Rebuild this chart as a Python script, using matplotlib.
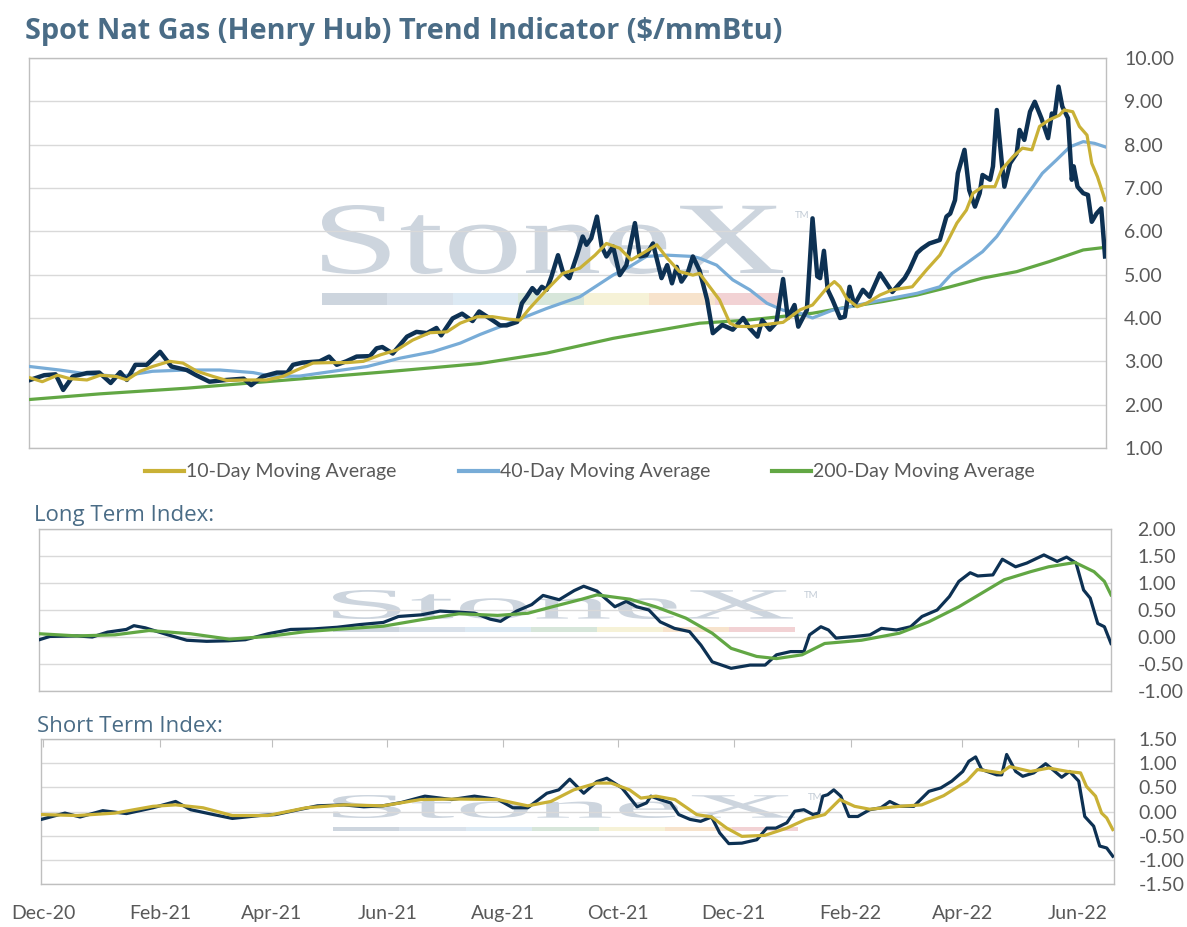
import numpy as np
import pandas as pd
import matplotlib
matplotlib.use('Agg')
import matplotlib.pyplot as plt
import matplotlib.dates as mdates
from matplotlib.ticker import FormatStrFormatter
from matplotlib.textpath import TextPath
from matplotlib.patches import PathPatch, Rectangle
from matplotlib.font_manager import FontProperties
from matplotlib.transforms import Affine2D
from matplotlib.lines import Line2D

plt.rcParams['font.family'] = ['Lato', 'DejaVu Sans']

# all series: days since 30 Nov 2020
START = pd.Timestamp('2020-11-30')
N_DAYS = 567

spot_day = [0.5, 8, 14, 18, 23, 30.5, 37, 43, 48, 51.5, 56, 62, 69, 75, 83, 88, 95, 104, 113, 117,
            123, 130.5, 136, 139, 144, 153, 158, 162, 167, 172.5, 179.5, 183, 186, 191.5, 199, 204,
            209.5, 214.5, 217, 223, 228, 233.5, 237, 244, 248, 251.5, 257, 259.5, 262, 265, 267.5,
            270, 272.5, 275, 278.5, 281, 284.5, 288.5, 291.5, 293.5, 296, 299, 301.5, 304, 307.5,
            311, 314.5, 319, 321.5, 325, 328.5, 333, 336, 338.5, 341, 343.5, 347, 349.5, 353, 357,
            360, 365, 370.5, 376, 379.5, 383.5, 386, 390, 393.5, 397, 399.5, 403, 405, 409.5, 412.5,
            415, 416.5, 418.5, 420.5, 423, 427, 429.5, 432, 434.5, 439, 442.5, 448, 451.5, 454.5,
            458.5, 461, 463.5, 467.5, 470, 474, 479.5, 483, 485, 487.5, 489, 492.5, 495, 498, 500.5,
            502, 506, 507.5, 509.5, 512, 513.5, 516.5, 520, 521.5, 524, 527, 529.5, 533, 536.5,
            538.5, 540, 542, 544, 547, 549, 550, 552, 555, 557.5, 559.5, 562, 564.5, 566.5]
spot = [2.57, 2.68, 2.70, 2.34, 2.65, 2.73, 2.74, 2.50, 2.75, 2.57, 2.92, 2.92, 3.22, 2.88, 2.80, 2.68,
        2.53, 2.57, 2.60, 2.45, 2.65, 2.74, 2.74, 2.92, 2.97, 3.00, 3.11, 2.92, 3.00, 3.11, 3.12, 3.30,
        3.33, 3.18, 3.57, 3.68, 3.65, 3.77, 3.60, 3.99, 4.10, 3.93, 4.15, 3.95, 3.83, 3.83, 3.91, 4.34,
        4.49, 4.69, 4.57, 4.72, 4.65, 4.95, 5.45, 5.07, 4.92, 5.45, 5.88, 5.69, 5.84, 6.34, 5.65, 5.42,
        5.65, 4.99, 5.22, 6.19, 5.42, 5.45, 5.72, 4.92, 5.22, 4.80, 5.18, 4.84, 5.07, 5.42, 5.10, 4.42,
        3.65, 3.84, 3.73, 4.00, 3.76, 3.57, 3.95, 3.73, 3.90, 4.90, 4.00, 4.30, 3.80, 4.18, 6.30,
        4.96, 4.92, 5.55, 4.65, 4.42, 4.00, 4.03, 4.72, 4.30, 4.65, 4.49, 5.03, 4.80, 4.60,
        4.80, 4.92, 5.11, 5.50, 5.60, 5.72, 5.80, 6.34, 6.41, 6.72, 7.34, 7.88, 6.95, 6.57, 6.88,
        7.30, 7.19, 7.50, 8.80, 7.65, 7.03, 7.57, 7.80, 8.34, 8.11, 8.76, 8.99, 8.61, 8.15,
        8.72, 8.68, 9.34, 8.88, 8.61, 7.19, 7.50, 7.03, 6.88, 6.84, 6.22, 6.41, 6.53, 5.42]

ma10_day = [0.5, 7, 15, 21.5, 30.5, 37.5, 46, 51.5, 58.5, 65, 74, 81, 88.5, 97, 104, 115, 125, 133.5,
            141, 149.5, 158.5, 167.5, 176, 185, 193.5, 202, 211, 220, 227, 236, 244, 253, 258.5,
            263.5, 272.5, 281, 290, 298, 304, 311, 317, 323, 330.5, 336, 342.5, 349.5, 353, 363.5,
            369, 372.5, 379.5, 386, 397, 406, 412.5, 420, 424, 427, 430.5, 436, 441, 448, 454.5,
            465, 472.5, 479.5, 483.5, 488.5, 493.5, 497, 502, 508.5, 512, 518, 523, 528, 532, 537,
            542.5, 545, 549.5, 553, 557, 559.5, 562.5, 566.5]
ma10 = [2.62, 2.53, 2.68, 2.60, 2.57, 2.68, 2.65, 2.57, 2.77, 2.88, 3.00, 2.96, 2.77, 2.65, 2.56, 2.57,
        2.57, 2.65, 2.80, 2.96, 2.97, 2.97, 3.00, 3.15, 3.26, 3.49, 3.66, 3.68, 3.88, 4.03, 4.03, 3.97,
        3.95, 4.22, 4.65, 5.03, 5.15, 5.45, 5.72, 5.61, 5.34, 5.49, 5.69, 5.38, 5.07, 4.99, 5.03, 4.42,
        3.88, 3.81, 3.80, 3.84, 3.90, 4.19, 4.30, 4.69, 4.84, 4.72, 4.45, 4.26, 4.34, 4.53, 4.65,
        4.72, 5.11, 5.45, 5.76, 6.19, 6.49, 6.88, 7.03, 7.03, 7.42, 7.72, 7.92, 7.88, 8.42, 8.57,
        8.68, 8.80, 8.76, 8.42, 8.22, 7.57, 7.26, 6.72]

ma40_day = [0.5, 16, 30.5, 48, 65, 83, 100.5, 118, 128.5, 142.5, 160, 178, 195, 212.5, 227, 237.5,
            254.5, 272.5, 290, 307.5, 316, 325, 336, 349.5, 353, 362, 370.5, 379.5, 388.5, 397, 406,
            412.5, 423, 432, 449.5, 467.5, 479.5, 486, 493.5, 502, 509.5, 515, 521.5, 528.5, 533.5,
            541, 548, 555, 561, 566.5]
ma40 = [2.88, 2.80, 2.71, 2.65, 2.77, 2.80, 2.80, 2.74, 2.65, 2.66, 2.77, 2.88, 3.07, 3.22, 3.42, 3.62,
        3.91, 4.22, 4.49, 4.99, 5.18, 5.42, 5.45, 5.42, 5.38, 5.22, 4.88, 4.65, 4.34, 4.18, 4.11,
        4.00, 4.18, 4.26, 4.42, 4.57, 4.72, 5.03, 5.26, 5.53, 5.88, 6.22, 6.61, 7.03, 7.34,
        7.65, 7.95, 8.07, 8.03, 7.95]

ma200_day = [0.5, 37.5, 83, 136, 188.5, 237.5, 272.5, 307.5, 342.5, 353, 378, 412.5, 432, 449.5,
             467.5, 485, 502, 520, 537, 555, 566.5]
ma200 = [2.12, 2.25, 2.38, 2.57, 2.76, 2.95, 3.19, 3.53, 3.80, 3.88, 3.95, 4.11, 4.26, 4.38,
         4.53, 4.72, 4.92, 5.07, 5.30, 5.57, 5.63]

lt_day = [0, 5.5, 20, 28, 36, 46, 50, 56, 68, 78, 88.5, 100, 109, 121, 133, 145, 157.5, 169.5, 182,
          190, 202, 212, 222, 230.5, 238.5, 244, 252.5, 260.5, 266.5, 275, 283, 288, 295, 304.5,
          310.5, 316, 322.5, 328.5, 336, 344, 350, 356, 366, 376, 384, 390, 397.5, 404.5, 407.5,
          413.5, 417.5, 421.5, 431.5, 439.5, 445.5, 453.5, 461, 467, 475, 481.5, 486.5, 492.5,
          496.5, 504.5, 509.5, 516.5, 522.5, 531.5, 538.5, 543.5, 548.5, 552.5, 556, 560, 563.5, 567]
lt = [-0.05, 0.01, 0.02, 0.00, 0.09, 0.14, 0.21, 0.17, 0.04, -0.06, -0.08, -0.07, -0.05, 0.06, 0.14,
      0.15, 0.18, 0.23, 0.27, 0.38, 0.41, 0.48, 0.46, 0.44, 0.33, 0.29, 0.48, 0.60, 0.77, 0.69, 0.86,
      0.94, 0.85, 0.56, 0.66, 0.56, 0.50, 0.28, 0.16, 0.10, -0.15, -0.46, -0.58, -0.52, -0.52, -0.33,
      -0.27, -0.27, 0.04, 0.19, 0.13, -0.02, 0.01, 0.04, 0.16, 0.13, 0.19, 0.38, 0.50, 0.75, 1.03,
      1.19, 1.13, 1.15, 1.44, 1.30, 1.37, 1.52, 1.40, 1.48, 1.37, 0.87, 0.72, 0.25, 0.19, -0.12]

lt_ma_day = [0, 20, 40, 58, 80, 100.5, 121, 141, 161, 182, 202, 222, 242.5, 258.5, 272.5, 287, 295,
             312.5, 326, 342, 356, 366, 379.5, 390, 403.5, 415.5, 435, 455, 470.5, 486.5, 498.5,
             510.5, 524.5, 534, 548, 558, 563.5, 567]
lt_ma = [0.06, 0.02, 0.04, 0.12, 0.06, -0.04, 0.01, 0.10, 0.15, 0.20, 0.32, 0.43, 0.40, 0.44, 0.57,
         0.70, 0.78, 0.70, 0.56, 0.35, 0.07, -0.21, -0.36, -0.40, -0.33, -0.12, -0.06, 0.07, 0.28,
         0.56, 0.81, 1.06, 1.21, 1.30, 1.38, 1.21, 1.03, 0.78]

st_day = [0, 12.5, 20.5, 32.5, 45, 59, 71, 79, 91, 101, 115.5, 124, 136, 146, 160, 170.5, 180.5,
          190.5, 202.8, 217, 229, 241.5, 249.3, 257.2, 267.3, 273.6, 279.4, 286.8, 293.7, 299, 307,
          315, 320, 322.3, 327, 332.8, 337, 343, 348.6, 354.4, 358.7, 363.5, 370.4, 378.3, 383.6,
          388.4, 394.2, 398.4, 403.2, 408, 411, 413.2, 415.8, 419, 422.7, 427, 431.7, 438, 443.9,
          448.6, 453.9, 461.3, 469.3, 475.6, 481.4, 487.2, 490.4, 494, 497.2, 505.1, 507.8, 510.4,
          515.2, 518.9, 524.7, 531, 534.7, 539.5, 543.7, 548.5, 551.7, 556.4, 559.6, 563.3, 566.5]
st = [-0.16, -0.03, -0.11, 0.02, -0.04, 0.08, 0.21, 0.04, -0.06, -0.14, -0.08, -0.06, 0.04, 0.12, 0.14,
      0.10, 0.12, 0.19, 0.32, 0.25, 0.32, 0.25, 0.08, 0.08, 0.38, 0.45, 0.67, 0.38, 0.62, 0.69, 0.49,
      0.10, 0.18, 0.32, 0.25, 0.18, -0.06, -0.16, -0.20, -0.11, -0.44, -0.66, -0.65, -0.58, -0.34,
      -0.34, -0.23, 0.01, 0.04, -0.06, -0.03, 0.32, 0.35, 0.45, 0.32, -0.10, -0.10, 0.04, 0.08,
      0.21, 0.11, 0.11, 0.42, 0.49, 0.63, 0.83, 1.04, 1.13, 0.87, 0.76, 0.76, 1.18,
      0.83, 0.73, 0.80, 0.99, 0.87, 0.71, 0.83, 0.63, -0.10, -0.30, -0.71, -0.75, -0.92]

st_ma_day = [0, 18.9, 39, 59, 71, 85.5, 101, 119.8, 140, 160, 180.5, 200.7, 220.8, 241.4, 257.2,
             269.4, 281.5, 293.7, 301.3, 311, 317, 325, 335, 346.5, 354.4, 362.4, 370.4, 382.5,
             394.2, 404.2, 414.2, 422.2, 430, 438, 453.9, 465.5, 477.1, 489.3, 495, 507.3, 512,
             523.1, 532.6, 542.6, 549.5, 552.6, 557.4, 560.6, 563.3, 566.5]
st_ma = [-0.06, -0.08, -0.03, 0.11, 0.14, 0.08, -0.08, -0.08, 0.08, 0.14, 0.12, 0.25, 0.26, 0.25, 0.12,
         0.21, 0.45, 0.59, 0.59, 0.45, 0.28, 0.32, 0.25, -0.06, -0.11, -0.34, -0.51, -0.49,
         -0.34, -0.16, -0.06, 0.25, 0.11, 0.05, 0.11, 0.14, 0.33, 0.63, 0.87, 0.80, 0.93,
         0.83, 0.90, 0.83, 0.80, 0.52, 0.32, -0.03, -0.13, -0.37]

NAVY = '#0d3153'
GOLD = '#c9b136'
LBLUE = '#78acd7'
GREEN = '#62a744'
GRID = '#d9d9d9'
SPINE = '#bfbfbf'
TICK = '#595959'
HEAD = '#4a6c86'
WM = '#cdd5de'
STRIP = ['#cdd5de', '#d9e1ea', '#dce9f3', '#d7e6da', '#f6f2d7', '#f7e3cc', '#f2d2d4']
HEAD_FONT = ['Open Sans', 'Lato', 'DejaVu Sans']

W, H = 1187, 927


def to_dates(days):
    return START + pd.to_timedelta(np.array(days), unit='D')


def box(l, t, r, b):
    # pixel box (from top-left) -> figure fraction rect
    return [l / W, (H - b) / H, (r - l) / W, (b - t) / H]


def style(ax, ylo, yhi, step, pad):
    ax.set_facecolor('none')
    ax.set_xlim(START, START + pd.Timedelta(days=N_DAYS))
    ax.set_ylim(ylo, yhi)
    ax.set_yticks(np.arange(ylo, yhi + step / 2, step))
    ax.yaxis.tick_right()
    ax.yaxis.set_major_formatter(FormatStrFormatter('%.2f'))
    ax.tick_params(axis='y', length=0, pad=pad, labelsize=14, labelcolor=TICK)
    ax.grid(axis='y', color=GRID, lw=1)
    for s in ax.spines.values():
        s.set_color(SPINE)
        s.set_linewidth(1)


def watermark(fig, x0, x1, ytop, ybot, sy0, sy1, sx1, tm_x, tm_y):
    tp = TextPath((0, 0), 'StoneX', size=100, prop=FontProperties(family='Liberation Serif'))
    ext = tp.get_extents()
    tr = (Affine2D().translate(-ext.x0, -ext.y0)
          .scale((x1 - x0) / ext.width, (ybot - ytop) / ext.height)
          .translate(x0, H - ybot).scale(1 / W, 1 / H) + fig.transFigure)
    fig.add_artist(PathPatch(tp, transform=tr, fc=WM, ec='none', zorder=-1))
    seg = (sx1 - x0) / len(STRIP)
    for i, c in enumerate(STRIP):
        fig.add_artist(Rectangle(((x0 + i * seg) / W, (H - sy1) / H), seg / W, (sy1 - sy0) / H,
                                 transform=fig.transFigure, fc=c, ec='none', zorder=-1))
    fig.text(tm_x / W, (H - tm_y) / H, 'TM', fontsize=7, color='#c3ccd6', va='center', zorder=-1)


fig = plt.figure(figsize=(W / 100, H / 100), dpi=100)
fig.patch.set_facecolor('white')

watermark(fig, 322, 783, 205, 274, 293, 305, 780, 795, 216)
watermark(fig, 333, 793, 590, 619, 627, 632, 795, 804, 595)
watermark(fig, 333, 795, 795, 818, 827, 831, 798, 808, 798)

# top panel: price and moving averages
ax1 = fig.add_axes(box(29, 58, 1106, 448))
style(ax1, 1, 10, 1, 13)
ax1.set_xticks([])
ax1.plot(to_dates(ma200_day), ma200, color=GREEN, lw=2.3, zorder=3)
ax1.plot(to_dates(ma40_day), ma40, color=LBLUE, lw=2.3, zorder=3)
ax1.plot(to_dates(spot_day), spot, color=NAVY, lw=3.2, zorder=4)
ax1.plot(to_dates(ma10_day), ma10, color=GOLD, lw=2.3, zorder=5)

handles = [Line2D([], [], color=GOLD, lw=3), Line2D([], [], color=LBLUE, lw=3),
           Line2D([], [], color=GREEN, lw=3)]
labels = ['10-Day Moving Average', '40-Day Moving Average', '200-Day Moving Average']
fig.legend(handles, labels, loc='center', bbox_to_anchor=(590 / W, (H - 472) / H), ncol=3,
           frameon=False, fontsize=14, handlelength=2.0, handletextpad=0.1, columnspacing=3.2,
           labelcolor=TICK)

# long term index
ax2 = fig.add_axes(box(39.4, 529, 1111, 691))
style(ax2, -1, 2, 0.5, 19)
ax2.set_xticks([])
ax2.plot(to_dates(lt_day), lt, color=NAVY, lw=2.3, zorder=3)
ax2.plot(to_dates(lt_ma_day), lt_ma, color=GREEN, lw=2.3, zorder=4)

# short term index
ax3 = fig.add_axes(box(41.3, 739, 1113.7, 884.3))
style(ax3, -1.5, 1.5, 0.5, 18)
ax3.plot(to_dates(st_day), st, color=NAVY, lw=2.3, zorder=3)
ax3.plot(to_dates(st_ma_day), st_ma, color=GOLD, lw=2.3, zorder=4)
ax3.xaxis.set_major_locator(mdates.MonthLocator(bymonth=[2, 4, 6, 8, 10, 12]))
ax3.xaxis.set_major_formatter(mdates.DateFormatter('%b-%y'))
ax3.tick_params(axis='x', bottom=False, top=True, direction='in', length=6, color=SPINE,
                labelbottom=True, labelsize=14, labelcolor=TICK, pad=15)

fig.text(25 / W, (H - 31) / H, 'Spot Nat Gas (Henry Hub) Trend Indicator ($/mmBtu)',
         fontsize=20.8, fontweight='bold', color=HEAD, va='center', family=HEAD_FONT)
fig.text(34 / W, (H - 516) / H, 'Long Term Index:', fontsize=16, color=HEAD, va='center',
         family=HEAD_FONT)
fig.text(37 / W, (H - 726) / H, 'Short Term Index:', fontsize=16, color=HEAD, va='center',
         family=HEAD_FONT)

fig.savefig('out.png', dpi=100, facecolor='white')
